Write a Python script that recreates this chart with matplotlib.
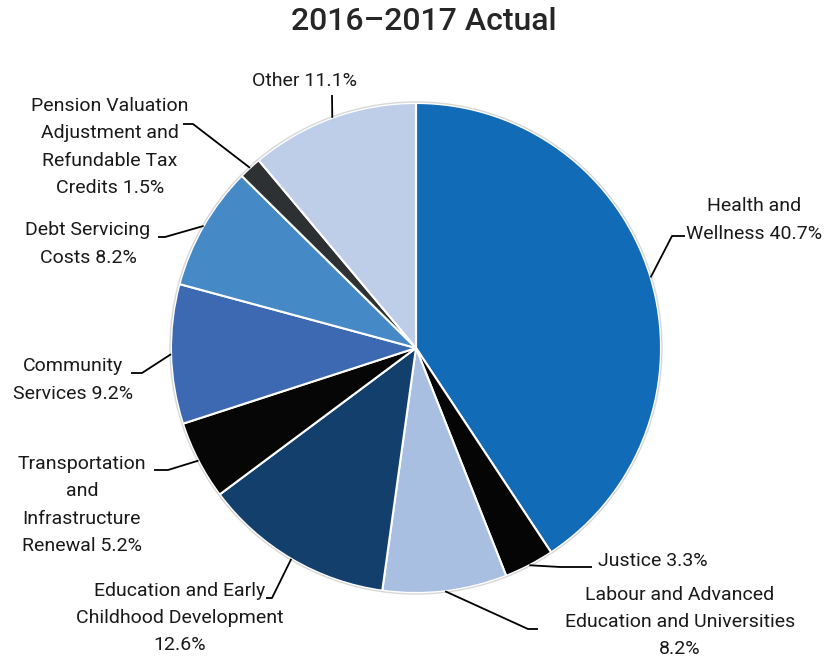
import numpy as np
import matplotlib
matplotlib.use("Agg")
import matplotlib.pyplot as plt

plt.rcParams["font.family"] = ["Roboto", "DejaVu Sans"]

W, H = 827, 661

# data (share of total spending, %)
names = [
    "Health and\nWellness",
    "Justice",
    "Labour and Advanced\nEducation and Universities",
    "Education and Early\nChildhood Development",
    "Transportation\nand\nInfrastructure\nRenewal",
    "Community\nServices",
    "Debt Servicing\nCosts",
    "Pension Valuation\nAdjustment and\nRefundable Tax\nCredits",
    "Other",
]
shares = [40.7, 3.3, 8.2, 12.6, 5.2, 9.2, 8.2, 1.5, 11.1]
pct_sep = [" ", " ", "\n", "\n", " ", " ", " ", " ", " "]
colors = ["#126BB6", "#050505", "#A9BFE1", "#123F6B", "#060606",
          "#3C69B1", "#4589C6", "#2E3133", "#BFCEE8"]

# label layout in pixel coords (from top-left): text centre, alignment, elbow, leader end
layout = [
    dict(text=(754, 220), ha="center", elbow=(672, 236), end=(685, 236)),
    dict(text=(598, 561), ha="left", elbow=(560, 567), end=(592, 567)),
    dict(text=(680, 622), ha="center", elbow=(528, 629), end=(538, 629)),
    dict(text=(180, 618), ha="center", elbow=(272, 598), end=(266, 598)),
    dict(text=(82, 505), ha="center", elbow=(168, 470), end=(154, 470)),
    dict(text=(73, 380), ha="center", elbow=(142, 373), end=(131, 373)),
    dict(text=(88, 244), ha="center", elbow=(165, 237), end=(158, 237)),
    dict(text=(110, 147), ha="center", elbow=(193, 124), end=(183, 124)),
    dict(text=(305, 81), ha="center", elbow=(332, 95), end=(332, 95)),
]

CX, CY, R = 416, H - 348, 245

fig = plt.figure(figsize=(W / 100, H / 100), dpi=100)
ax = fig.add_axes([0, 0, 1, 1])

wedges, _ = ax.pie(shares, colors=colors, startangle=90, counterclock=False,
                   center=(CX, CY), radius=R,
                   wedgeprops=dict(edgecolor="white", linewidth=1.5))
ax.add_patch(plt.Circle((CX, CY), R + 1, fill=False, edgecolor="#d8d8d8", lw=1))

for w, name, v, sep, lay in zip(wedges, names, shares, pct_sep, layout):
    mid = np.deg2rad((w.theta1 + w.theta2) / 2)
    px, py = CX + R * np.cos(mid), CY + R * np.sin(mid)
    ex, ey = lay["elbow"]
    fx, fy = lay["end"]
    ax.plot([px, ex, fx], [py, H - ey, H - fy], color="black", lw=1.3,
            solid_capstyle="butt", zorder=3)
    tx, ty = lay["text"]
    ax.text(tx, H - ty, f"{name}{sep}{v}%", ha=lay["ha"], va="center",
            multialignment="center", fontsize=14, color="#1a1a1a",
            linespacing=1.65)

ax.text(W / 2 + 10, H - 22, "2016\u20132017 Actual", ha="center", va="center",
        fontsize=23, fontweight="medium", color="#262626")

ax.set_xlim(0, W)
ax.set_ylim(0, H)
ax.axis("off")

fig.savefig("out.png", dpi=100)
